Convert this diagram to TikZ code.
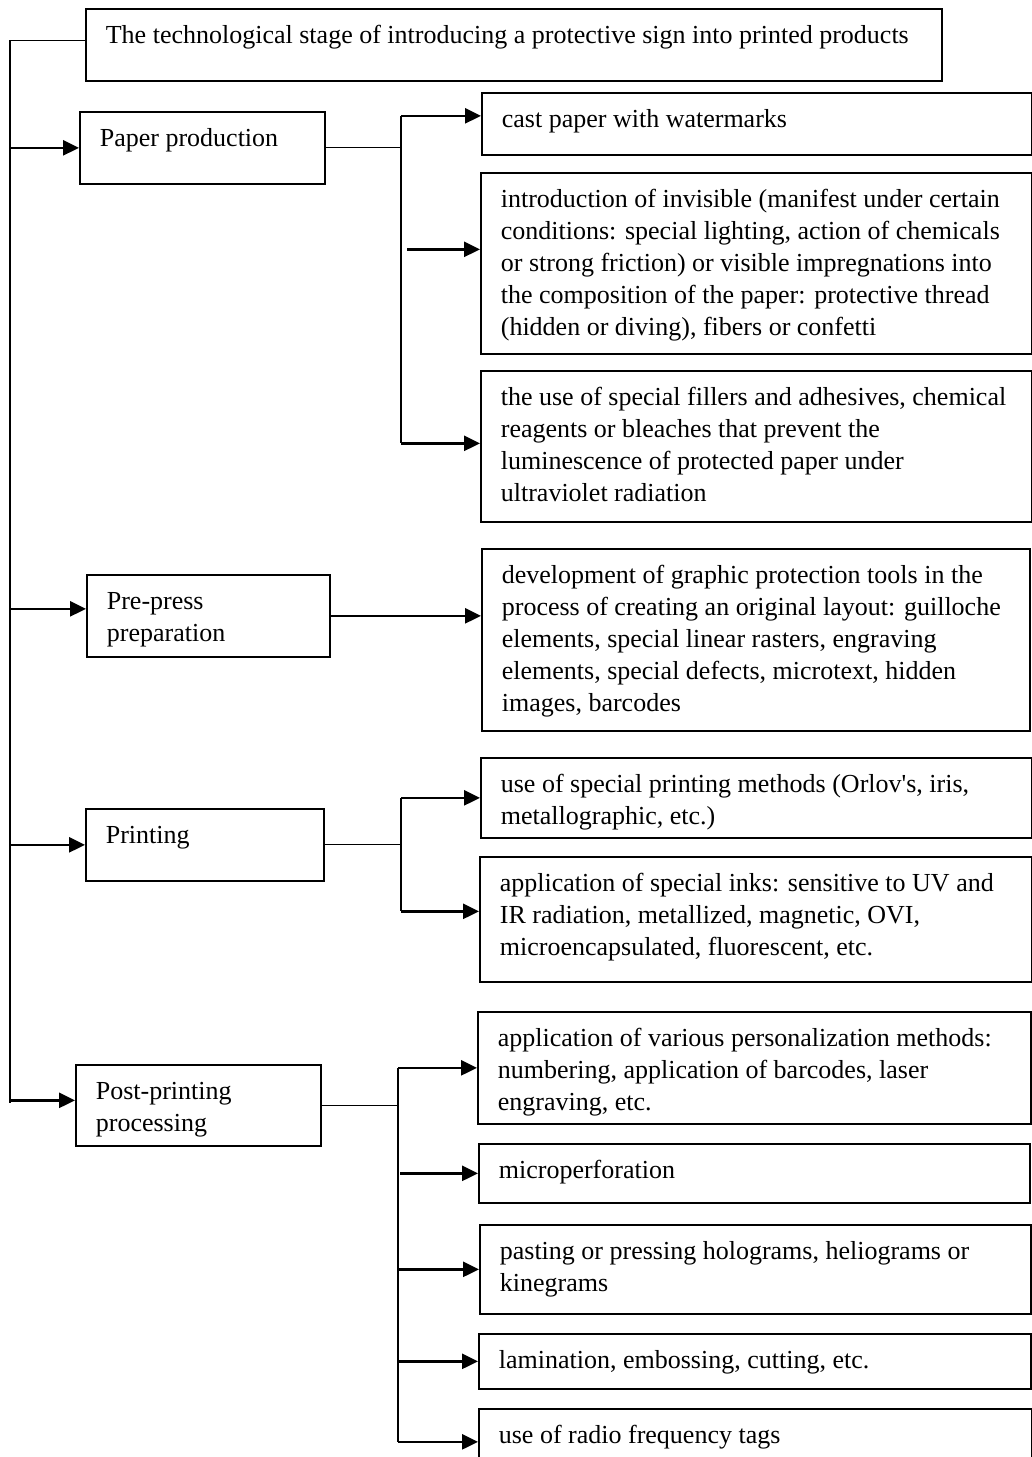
\documentclass[tikz,border=0pt]{standalone}
\usepackage{fontspec}
\setmainfont{Liberation Serif}
\usetikzlibrary{arrows.meta}
\newcommand\mainsize{\fontsize{26}{32}\selectfont}
\newcommand\bx[6]{\node[box] (#1) at (#2,#3) {\parbox[t][\dimexpr#5pt-25.2pt\relax][t]{\dimexpr#4pt-40pt\relax}{\raggedright\rightskip=-40pt plus 1fil\strut #6}};}
\tikzset{
  box/.style={draw, line width=1.7pt, anchor=north west, inner xsep=20pt, inner ysep=12.6pt, font=\mainsize},
  arr/.style={line width=2.6pt, -{Triangle[length=16pt,width=15pt]}},
  thinln/.style={line width=1.2pt},
  busln/.style={line width=1.6pt},
}
\begin{document}
\begin{tikzpicture}[x=1pt,y=-1pt]
\fill[white] (0,0) rectangle (1032,1457);
\useasboundingbox (0,0) rectangle (1032,1457);
% left column
\bx{title}{85}{8}{856}{72}{The technological stage of introducing a protective sign into printed products}
\bx{pp}{79}{111}{245}{72}{Paper production}
\bx{pre}{86}{574}{243}{82}{Pre-press\\preparation}
\bx{prn}{85}{808}{238}{72}{Printing}
\bx{post}{75}{1064}{245}{81}{Post-printing\\processing}
% right column
\bx{r1}{481}{92}{550}{62}{cast paper with watermarks}
\bx{r2}{480}{172}{551}{181}{introduction of invisible (manifest under certain\\conditions: special lighting, action of chemicals\\or strong friction) or visible impregnations into\\the composition of the paper: protective thread\\(hidden or diving), fibers or confetti}
\bx{r3}{480}{370}{551}{151}{the use of special fillers and adhesives, chemical\\reagents or bleaches that prevent the\\luminescence of protected paper under\\ultraviolet radiation}
\bx{r4}{481}{548}{548}{182}{development of graphic protection tools in the\\process of creating an original layout: guilloche\\elements, special linear rasters, engraving\\elements, special defects, microtext, hidden\\images, barcodes}
\bx{r5}{480}{757}{551}{80}{use of special printing methods (Orlov\textquotesingle s, iris,\\metallographic, etc.)}
\bx{r6}{479}{856}{552}{125}{application of special inks: sensitive to UV and\\IR radiation, metallized, magnetic, OVI,\\microencapsulated, fluorescent, etc.}
\bx{r7}{477}{1011}{553}{112}{application of various personalization methods:\\numbering, application of barcodes, laser\\engraving, etc.}
\bx{r8}{478}{1143}{551}{59}{microperforation}
\bx{r9}{479}{1224}{551}{89}{pasting or pressing holograms, heliograms or\\kinegrams}
\bx{r10}{478}{1333}{552}{55}{lamination, embossing, cutting, etc.}
\bx{r11}{478}{1408}{553}{72}{use of radio frequency tags}
% spine
\coordinate (spbot) at (10,1103);
\draw[thinln] ([yshift=4pt]title.west) -| (spbot);
\coordinate (preIn) at ([yshift=7pt]pre.west);
\coordinate (postIn) at ([yshift=5pt]post.west);
\draw[arr] (spbot |- pp.west) -- (pp.west);
\draw[arr] (spbot |- preIn) -- (preIn);
\draw[arr] (spbot |- prn.west) -- (prn.west);
\draw[arr] (spbot |- postIn) -- (postIn);
% paper production branch
\coordinate (b1) at (401,0);
\coordinate (b1m) at (407,0);
\coordinate (r1in) at ([yshift=8pt]r1.west);
\coordinate (r2in) at ([yshift=14pt]r2.west);
\coordinate (r3in) at ([yshift=3pt]r3.west);
\draw[thinln] (pp.east) -- (pp.east -| b1);
\draw[busln] (b1 |- r1in) -- (b1 |- r3in);
\draw[arr] (b1 |- r1in) -- (r1in);
\draw[arr] (b1m |- r2in) -- (r2in);
\draw[arr] (b1 |- r3in) -- (r3in);
% pre-press branch
\draw[arr] (pre.east) -- (pre.east -| r4.west);
% printing branch
\coordinate (b2) at (401,0);
\coordinate (r5in) at (r5.west);
\coordinate (r6in) at ([yshift=8pt]r6.west);
\draw[thinln] (prn.east) -- (prn.east -| b2);
\draw[busln] (b2 |- r5in) -- (b2 |- r6in);
\draw[arr] (b2 |- r5in) -- (r5in);
\draw[arr] (b2 |- r6in) -- (r6in);
% post-printing branch
\coordinate (b3) at (398,0);
\coordinate (b3m) at (400,0);
\coordinate (r11in) at ([yshift=3pt]r11.west);
\draw[thinln] (post.east) -- (post.east -| b3);
\draw[busln] (b3 |- r7.west) -- (b3 |- r11in);
\draw[arr] (b3 |- r7.west) -- (r7.west);
\draw[arr] (b3m |- r8.west) -- (r8.west);
\draw[arr] (b3 |- r9.west) -- (r9.west);
\draw[arr] (b3 |- r10.west) -- (r10.west);
\draw[arr] (b3 |- r11in) -- (r11in);
\end{tikzpicture}
\end{document}
